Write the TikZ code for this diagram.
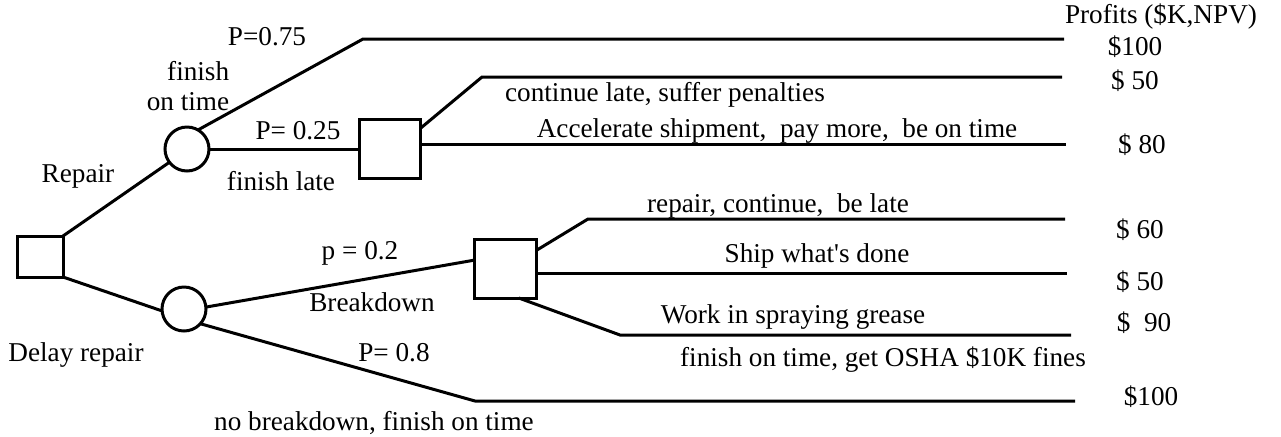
\documentclass[tikz,border=0pt]{standalone}
\usepackage{fontspec}
\setmainfont{Liberation Serif}

\begin{document}
\begin{tikzpicture}[x=0.5pt, y=-0.5pt, line width=1.5pt,
    decision/.style={draw, inner sep=0, outer sep=0},
    chance/.style={draw, circle, minimum size=22pt, inner sep=0, outer sep=0},
    lbl/.style={inner sep=0, font=\fontsize{13.6}{15}\selectfont}]
    \useasboundingbox (0,0) rectangle (1281,436);

    % decision and chance nodes
    \node[decision, minimum width=23pt, minimum height=20.5pt] (start) at (40,256.5) {};
    \node[chance] (repair) at (187,149) {};
    \node[chance] (delay) at (184,309) {};
    \node[decision, minimum width=30.5pt, minimum height=29.5pt] (late) at (389.5,148.5) {};
    \node[decision, minimum width=31pt, minimum height=29.5pt] (broken) at (505,268.5) {};

    % bends and free ends of the branches
    \coordinate (onTimeBend) at (363,39);      \coordinate (onTimeEnd) at (1064,39);
    \coordinate (penaltyBend) at (482,77);     \coordinate (penaltyEnd) at (1062,77);
    \coordinate (accelEnd) at (1066,144);
    \coordinate (lateRepairBend) at (588,219); \coordinate (lateRepairEnd) at (1065,219);
    \coordinate (shipEnd) at (1067,273);
    \coordinate (greaseBend) at (620,335);     \coordinate (greaseEnd) at (1071,335);
    \coordinate (noBreakBend) at (475,401);    \coordinate (noBreakEnd) at (1075,401);

    \draw (start.north east) -- (repair.217);
    \draw (start.south east) -- (delay.185);

    \draw (repair.60) -- (onTimeBend) -- (onTimeEnd);
    \draw (repair.east) -- (repair.east -| late.west);
    \draw (late.33) -- (penaltyBend) -- (penaltyEnd);
    \draw (late.east |- accelEnd) -- (accelEnd);

    \draw (delay.5) -- (broken.165);
    \draw (delay.318) -- (noBreakBend) -- (noBreakEnd);
    \draw (broken.30) -- (lateRepairBend) -- (lateRepairEnd);
    \draw (broken.east |- shipEnd) -- (shipEnd);
    \draw (broken.295) -- (greaseBend) -- (greaseEnd);

    % branch labels
    \node[lbl] (pOnTime) at (267,37) {P=0.75};
    \node[lbl, align=right] (onTimeLbl) at (188,86) {finish\\on time};
    \node[lbl] (pLate) at (298,131) {P= 0.25};
    \node[lbl] (lateLbl) at (281,181) {finish late};
    \node[lbl] (repairLbl) at (78,176) {Repair};
    \node[lbl] (delayLbl) at (76,355) {Delay repair};
    \node[lbl] (pBreak) at (360,253) {p = 0.2};
    \node[lbl] (breakLbl) at (372,302) {Breakdown};
    \node[lbl] (pNoBreak) at (394,353) {P= 0.8};
    \node[lbl] (noBreakLbl) at (374,423) {no breakdown, finish on time};
    \node[lbl] (penaltyLbl) at (665,95) {continue late, suffer penalties};
    \node[lbl] (accelLbl) at (777,131) {Accelerate shipment,\ \ pay more,\ \ be on time};
    \node[lbl] (lateRepairLbl) at (778,206) {repair, continue,\ \ be late};
    \node[lbl] (shipLbl) at (817,256) {Ship what\textquotesingle s done};
    \node[lbl] (greaseLbl) at (793,317) {Work in spraying grease};
    \node[lbl] (oshaLbl) at (883,360) {finish on time, get OSHA \$10K fines};

    % profits column
    \node[lbl] (profitHead) at (1161,17) {Profits (\$K,NPV)};
    \node[lbl] (valOnTime) at (1135,47) {\$100};
    \node[lbl] (valPenalty) at (1135,81) {\$ 50};
    \node[lbl] (valAccel) at (1142,145) {\$ 80};
    \node[lbl] (valLateRepair) at (1140,230) {\$ 60};
    \node[lbl] (valShip) at (1140,282) {\$ 50};
    \node[lbl] (valGrease) at (1144,323) {\$\ \ 90};
    \node[lbl] (valNoBreak) at (1151,397) {\$100};
\end{tikzpicture}
\end{document}
